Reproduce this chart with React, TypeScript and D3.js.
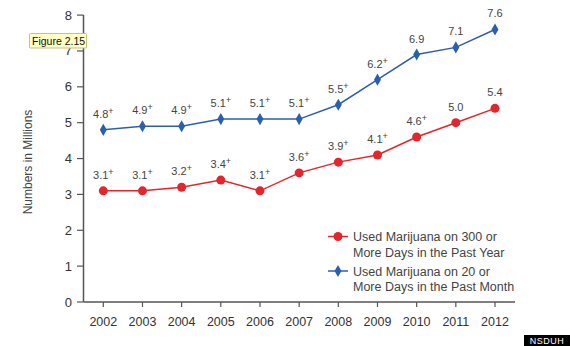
import React from "react";
import * as d3 from "d3";

const years = [2002, 2003, 2004, 2005, 2006, 2007, 2008, 2009, 2010, 2011, 2012];
const redValues = [3.1, 3.1, 3.2, 3.4, 3.1, 3.6, 3.9, 4.1, 4.6, 5.0, 5.4];
const redPlus = [true, true, true, true, true, true, true, true, true, false, false];
const blueValues = [4.8, 4.9, 4.9, 5.1, 5.1, 5.1, 5.5, 6.2, 6.9, 7.1, 7.6];
const bluePlus = [true, true, true, true, true, true, true, true, false, false, false];
const yTicks = [0, 1, 2, 3, 4, 5, 6, 7, 8];
const legendRed = ["Used Marijuana on 300 or", "More Days in the Past Year"];
const legendBlue = ["Used Marijuana on 20 or", "More Days in the Past Month"];

const RED = "#e3262b";
const BLUE = "#2a5fb0";
const FONT = "Liberation Sans, Arial, sans-serif";

export default function App() {
  const W = 570, H = 346;
  const x = d3.scaleLinear().domain([2002, 2012]).range([103.3, 495]);
  const y = d3.scaleLinear().domain([0, 8]).range([302, 15.1]);
  const line = d3.line<number>().x((_, i) => x(years[i])).y((d) => y(d));
  const diamond = d3.symbol().type(d3.symbolDiamond).size(42)();

  const label = (v: number, plus: boolean, i: number, key: string) => (
    <text key={key} x={x(years[i])} y={y(v) - 12} textAnchor="middle" fontSize={11} fill="#444" fontFamily={FONT}>
      {v.toFixed(1)}
      {plus ? <tspan dy={-4} fontSize={9}>+</tspan> : null}
    </text>
  );

  return (
    <svg width={W} height={H} style={{ position: "absolute", left: 0, top: 0, background: "#fff" }}>
      <rect width={W} height={H} fill="#fff" />
      {/* axes */}
      <line x1={83.5} x2={83.5} y1={15} y2={302} stroke="#555" strokeWidth={1.5} />
      <line x1={83.5} x2={515} y1={302} y2={302} stroke="#555" strokeWidth={1.5} />
      {yTicks.map((t) => (
        <g key={t}>
          <line x1={77} x2={83.5} y1={y(t)} y2={y(t)} stroke="#555" strokeWidth={1.2} />
          <text x={72} y={y(t) + 4.5} textAnchor="end" fontSize={13} fill="#333" fontFamily={FONT}>{t}</text>
        </g>
      ))}
      {years.map((yr) => (
        <g key={yr}>
          <line x1={x(yr)} x2={x(yr)} y1={302} y2={307} stroke="#555" strokeWidth={1.2} />
          <text x={x(yr)} y={326} textAnchor="middle" fontSize={12.5} fill="#333" fontFamily={FONT}>{yr}</text>
        </g>
      ))}
      <text transform="translate(32,162) rotate(-90)" textAnchor="middle" fontSize={12} fill="#444" fontFamily={FONT}>
        Numbers in Millions
      </text>
      {/* lines */}
      <path d={line(blueValues) || ""} fill="none" stroke={BLUE} strokeWidth={1.5} />
      <path d={line(redValues) || ""} fill="none" stroke={RED} strokeWidth={1.5} />
      {blueValues.map((v, i) => (
        <path key={"b" + i} d={diamond || ""} transform={`translate(${x(years[i])},${y(v)})`} fill={BLUE} />
      ))}
      {redValues.map((v, i) => (
        <circle key={"r" + i} cx={x(years[i])} cy={y(v)} r={4.5} fill={RED} />
      ))}
      {blueValues.map((v, i) => label(v, bluePlus[i], i, "bl" + i))}
      {redValues.map((v, i) => label(v, redPlus[i], i, "rl" + i))}
      {/* legend */}
      <line x1={328} x2={348} y1={236.5} y2={236.5} stroke={RED} strokeWidth={1.5} />
      <circle cx={338} cy={236.5} r={4.5} fill={RED} />
      {legendRed.map((t, i) => (
        <text key={"lr" + i} x={353} y={241 + i * 15.5} fontSize={12.5} fill="#444" fontFamily={FONT}>{t}</text>
      ))}
      <line x1={328} x2={348} y1={271} y2={271} stroke={BLUE} strokeWidth={1.5} />
      <path d={diamond || ""} transform="translate(338,271)" fill={BLUE} />
      {legendBlue.map((t, i) => (
        <text key={"lb" + i} x={353} y={275.5 + i * 15.5} fontSize={12.5} fill="#444" fontFamily={FONT}>{t}</text>
      ))}
      {/* tooltip */}
      <rect x={29.5} y={33.5} width={57} height={14.5} fill="#ffffc6" stroke="#c9c07a" strokeWidth={1} rx={1} />
      <text x={32} y={44.5} fontSize={10.5} fill="#111" fontFamily={FONT}>Figure 2.15</text>
      {/* source badge */}
      <rect x={524} y={335} width={46} height={11} fill="#000" />
      <text x={547} y={344} textAnchor="middle" fontSize={9} fill="#fff" fontFamily={FONT} letterSpacing={0.5}>NSDUH</text>
    </svg>
  );
}
